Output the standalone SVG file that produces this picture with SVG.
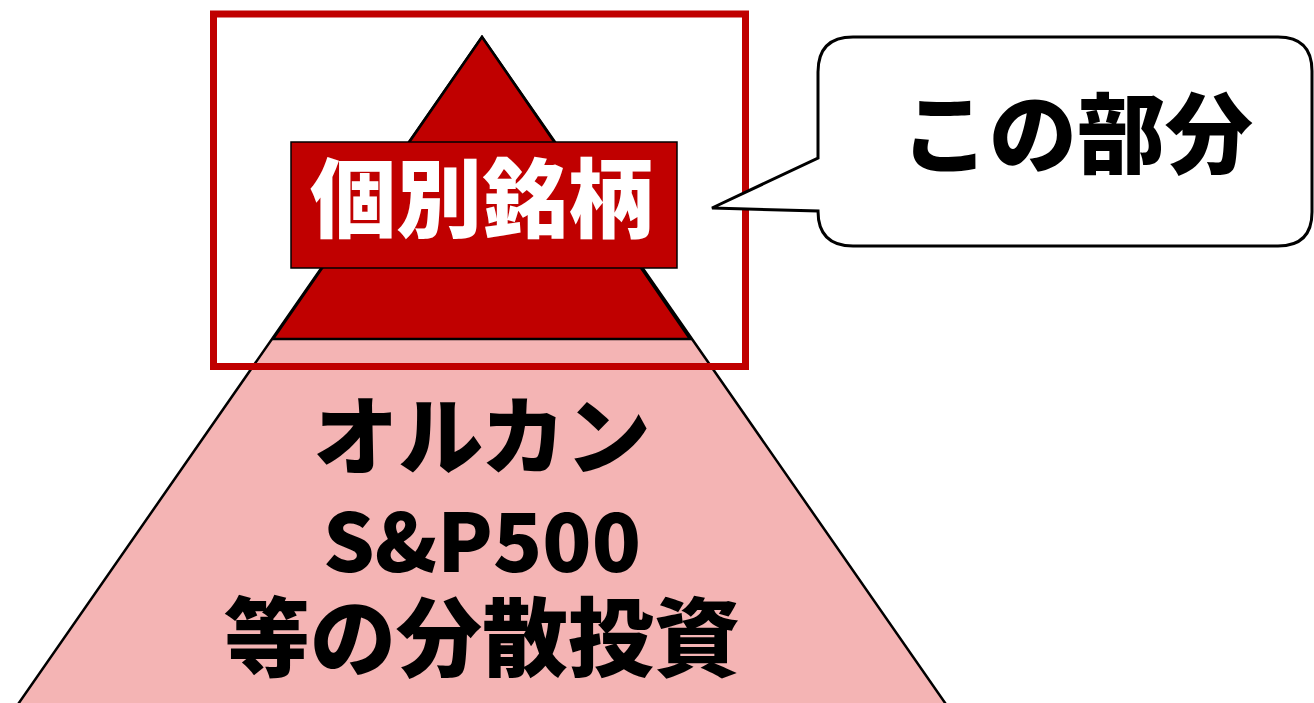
<svg xmlns="http://www.w3.org/2000/svg" width="1314" height="703" viewBox="0 0 1314 703">
<style>
.jp{font-family:"Noto Sans CJK JP","Noto Sans",sans-serif;font-weight:900;text-anchor:middle}
</style>
<rect width="1314" height="703" fill="#fff"/>
<g id="base">
<polygon points="482,37 950,710 14,710" fill="#F4B4B4" stroke="#000" stroke-width="2.5"/>
<text class="jp" x="482" y="468" font-size="85" fill="#000">オルカン</text>
<text class="jp" x="482" y="572" font-size="81" fill="#000">S&amp;P500</text>
<text class="jp" x="482" y="670" font-size="86" fill="#000">等の分散投資</text>
</g>
<g id="top">
<polygon points="482,37 690,339 273,339" fill="#C00000" stroke="#000" stroke-width="2.5"/>
<rect x="291" y="142" width="386" height="126" fill="#C00000" stroke="#000" stroke-width="1.5"/>
<text class="jp" x="482" y="231" font-size="86" fill="#fff">個別銘柄</text>
</g>
<g id="frame">
<rect x="213.5" y="14" width="532" height="352.5" fill="none" stroke="#C00000" stroke-width="7"/>
</g>
<g id="callout">
<path d="M853,37 H1278 Q1312,37 1312,71 V212 Q1312,246 1278,246 H853 Q818,246 818,211 L712,208 L818,158 V72 Q818,37 853,37 Z" fill="#fff" stroke="#000" stroke-width="3"/>
<text class="jp" x="1077" y="166" font-size="88" fill="#000">この部分</text>
</g>
</svg>
